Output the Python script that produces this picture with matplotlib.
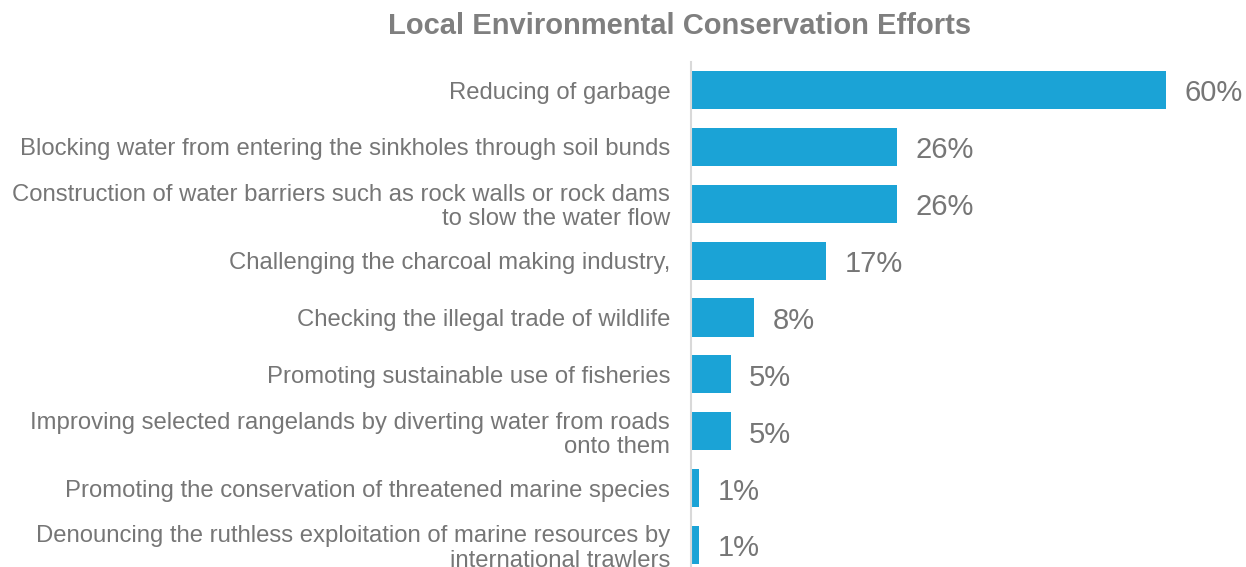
import matplotlib
matplotlib.use("Agg")
import matplotlib.pyplot as plt

categories = [
    "Reducing of garbage",
    "Blocking water from entering the sinkholes through soil bunds",
    "Construction of water barriers such as rock walls or rock dams\nto slow the water flow",
    "Challenging the charcoal making industry,",
    "Checking the illegal trade of wildlife",
    "Promoting sustainable use of fisheries",
    "Improving selected rangelands by diverting water from roads\nonto them",
    "Promoting the conservation of threatened marine species",
    "Denouncing the ruthless exploitation of marine resources by\ninternational trawlers",
]
values = [60, 26, 26, 17, 8, 5, 5, 1, 1]
value_labels = ["60%", "26%", "26%", "17%", "8%", "5%", "5%", "1%", "1%"]
title = "Local Environmental Conservation Efforts"

plt.rcParams['font.family'] = ['Liberation Sans', 'DejaVu Sans']
W, H = 1246, 567
fig = plt.figure(figsize=(W / 100, H / 100), dpi=100)
x0 = 691
top_px = 61.6
bot_px = 573.4
ax = fig.add_axes([x0 / W, (H - bot_px) / H, (W - x0) / W, (bot_px - top_px) / H])

bar_color = "#1ba3d6"
text_color = "#767676"
pos = list(range(len(categories)))
ax.barh(pos, values, height=0.67, color=bar_color)
ax.set_ylim(len(categories) - 0.5, -0.5)
ax.set_xlim(0, (W - x0) / 7.92)
ax.set_yticks(pos)
ax.set_yticklabels(categories, fontsize=17.2, color=text_color, linespacing=1.12)
ax.tick_params(axis='y', length=0, pad=15)
ax.set_xticks([])
for s in ["top", "right", "bottom"]:
    ax.spines[s].set_visible(False)
ax.spines["left"].set_color("#d9d9d9")
ax.spines["left"].set_linewidth(1.5)

for p, v, lab in zip(pos, values, value_labels):
    ax.text(v + 2.35, p + 0.06, lab, va="center", ha="left", fontsize=21, color=text_color)

fig.text(680 / W, 1 - 26 / H, title, ha="center", va="center", fontsize=21,
         fontweight="bold", color="#7f7f7f")

fig.savefig("out.png", dpi=100)
